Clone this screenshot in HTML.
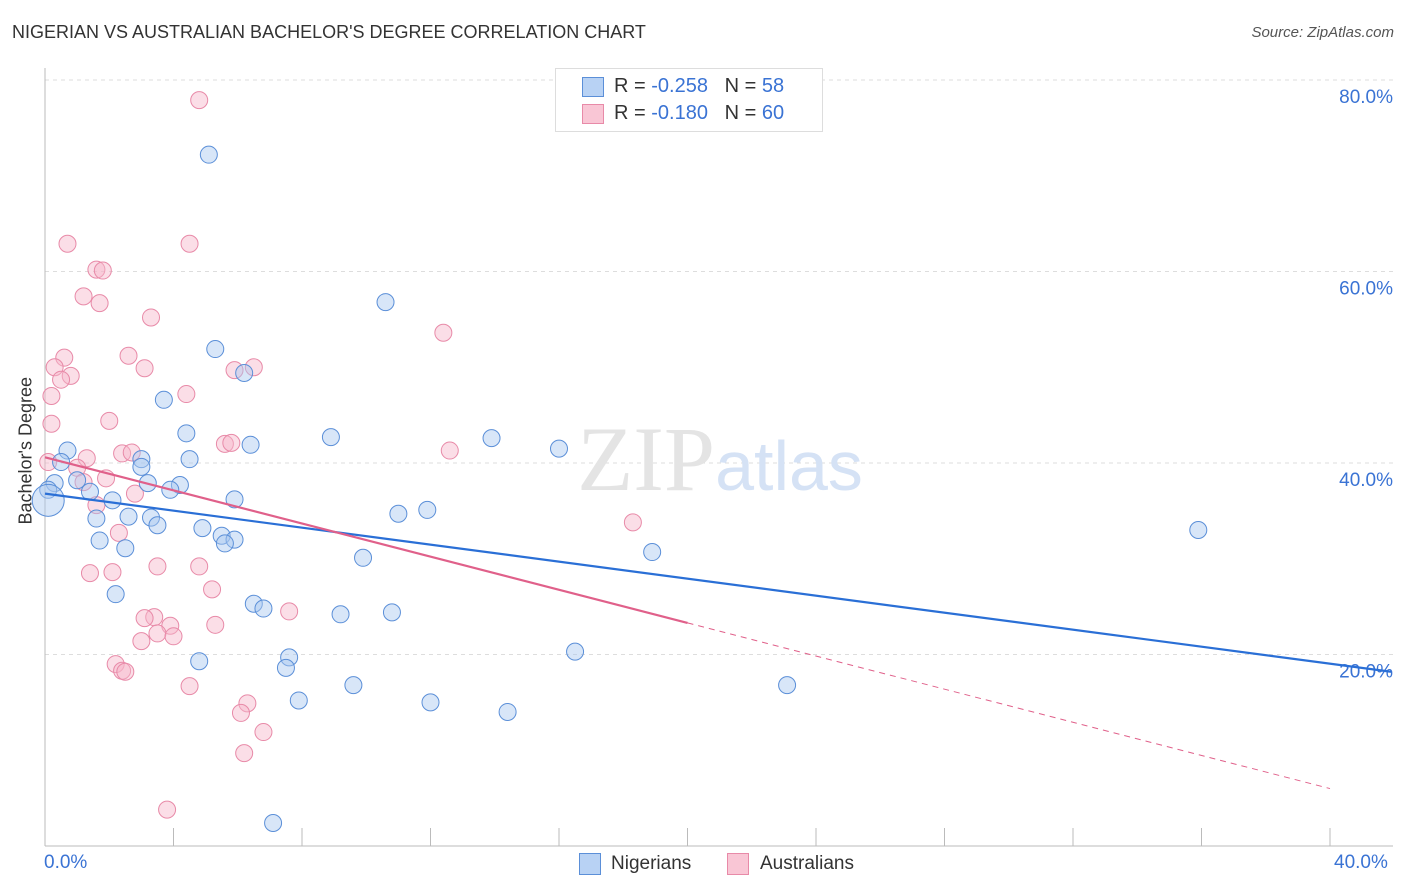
<!DOCTYPE html>
<html><head><meta charset="utf-8">
<style>
body{margin:0;background:#fff;font-family:"Liberation Sans",sans-serif;}
#wrap{position:relative;width:1406px;height:892px;overflow:hidden;}
.t{position:absolute;white-space:nowrap;}
</style></head>
<body>
<div id="wrap">
<div class="t" style="left:12px;top:22px;font-size:18px;color:#333;">NIGERIAN VS AUSTRALIAN BACHELOR'S DEGREE CORRELATION CHART</div>
<div class="t" style="right:12px;top:24px;font-size:15px;color:#555;font-style:italic;">Source: ZipAtlas.com</div>
<svg id="svg" width="1406" height="892" style="position:absolute;left:0;top:0"></svg>
</div>
<script>
const blueX=[5.1,10.6,5.3,6.2,3.7,4.4,8.9,13.9,16.0,6.4,0.7,4.5,3.0,0.5,3.0,1.0,0.3,0.1,1.4,3.2,4.2,3.9,5.9,2.1,1.6,2.6,3.3,3.5,4.9,11.0,11.9,5.5,5.9,5.6,1.7,2.5,18.9,9.9,35.9,2.2,6.5,6.8,9.2,10.8,16.5,4.8,7.6,7.5,9.6,23.1,7.9,12.0,14.4,7.1,0.1];
const blueY=[72.2,56.8,51.9,49.4,46.6,43.1,42.7,42.6,41.5,41.9,41.3,40.4,40.4,40.1,39.6,38.2,37.9,37.2,37.0,37.9,37.7,37.2,36.2,36.1,34.2,34.4,34.3,33.5,33.2,34.7,35.1,32.4,32.0,31.6,31.9,31.1,30.7,30.1,33.0,26.3,25.3,24.8,24.2,24.4,20.3,19.3,19.7,18.6,16.8,16.8,15.2,15.0,14.0,2.4,36.1];
const pinkX=[4.8,0.7,4.5,1.6,1.8,1.2,1.7,3.3,12.4,0.6,2.6,0.3,3.1,0.8,0.5,5.9,6.5,4.4,0.2,2.0,0.2,5.6,5.8,12.6,2.4,2.7,1.3,1.0,1.9,1.2,2.8,1.6,2.3,18.3,3.5,4.8,1.4,2.1,5.2,7.6,3.4,3.1,3.9,5.3,3.5,4.0,3.0,2.2,2.4,2.5,4.5,6.3,6.1,6.8,6.2,3.8,0.1];
const pinkY=[77.9,62.9,62.9,60.2,60.1,57.4,56.7,55.2,53.6,51.0,51.2,50.0,49.9,49.1,48.7,49.7,50.0,47.2,47.0,44.4,44.1,42.0,42.1,41.3,41.0,41.1,40.5,39.5,38.4,38.0,36.8,35.6,32.7,33.8,29.2,29.2,28.5,28.6,26.8,24.5,23.9,23.8,23.0,23.1,22.2,21.9,21.4,19.0,18.3,18.2,16.7,14.9,13.9,11.9,9.7,3.8,40.1];
const blueTrend=[36.8,-0.444];
const pinkTrend=[40.6,-0.865];
const yTicks=[20,40,60,80];
const xTicks=[0,4,8,12,16,20,24,28,32,36,40];
const X=v=>45+v*32.125, Y=v=>846-v*9.575;
const svg=document.getElementById('svg');const NS='http://www.w3.org/2000/svg';
function mk(tag,attrs,parent){const e=document.createElementNS(NS,tag);for(const k in attrs)e.setAttribute(k,attrs[k]);(parent||svg).appendChild(e);return e;}
yTicks.forEach(t=>{const g=mk('line',{x1:45,x2:1393,y1:Y(t),y2:Y(t),stroke:'#ddd','stroke-dasharray':'4,4'});


const l=mk('text',{x:1393,y:Y(t)+23,'text-anchor':'end','font-size':19,fill:'#3a73d4','font-family':'Liberation Sans'});l.textContent=t.toFixed(1)+'%';

});
mk('line',{x1:45,x2:45,y1:68,y2:846,stroke:'#bbb'});
mk('line',{x1:45,x2:1393,y1:846,y2:846,stroke:'#bbb'});
xTicks.forEach(t=>{const k=mk('line',{x1:X(t),x2:X(t),y1:828,y2:846,stroke:'#bbb'});

});
const wm=mk('text',{x:720,y:490,'text-anchor':'middle','font-size':92,'font-family':'Liberation Serif',fill:'#e4e4e4'});


wm.innerHTML='ZIP<tspan fill="#d5e2f5" font-family="Liberation Sans" font-size="70">atlas</tspan>';
function pts(xs,ys,fill,stroke,name,bigLast){xs.forEach((x,i)=>{const r=(bigLast&&i===xs.length-1)?16:8.5;const c=mk('circle',{cx:X(x),cy:Y(ys[i]),r:r,fill:fill,stroke:stroke,'stroke-width':1,'fill-opacity':0.45});

});}
pts(pinkX,pinkY,'#f7b6c9','#e88aa8','australian-point',false);
pts(blueX,blueY,'#a9c8f0','#5b8fd8','nigerian-point',true);
const bl=mk('line',{x1:X(0),y1:Y(blueTrend[0]),x2:X(41.9),y2:Y(blueTrend[0]+blueTrend[1]*41.9),stroke:'#2a6fd6','stroke-width':2.2});


const pl=mk('line',{x1:X(0),y1:Y(pinkTrend[0]),x2:X(20),y2:Y(pinkTrend[0]+pinkTrend[1]*20),stroke:'#e0608a','stroke-width':2.2});


const pd=mk('line',{x1:X(20),y1:Y(pinkTrend[0]+pinkTrend[1]*20),x2:X(40),y2:Y(pinkTrend[0]+pinkTrend[1]*40),stroke:'#e0608a','stroke-width':1,'stroke-dasharray':'6,5'});


</script>
<div class="t" style="left:44px;top:852px;font-size:19px;color:#3a73d4;">0.0%</div>
<div class="t" style="left:1334px;top:852px;font-size:19px;color:#3a73d4;">40.0%</div>
<div class="t" style="left:-44px;top:444px;font-size:18px;color:#333;transform:rotate(-90deg);width:140px;text-align:center;">Bachelor's Degree</div>
<div style="position:absolute;left:555px;top:68px;width:266px;height:62px;border:1px solid #ddd;background:#fff;font-size:20px;">
 <div class="t" style="left:26px;top:8px;width:20px;height:18px;background:#b8d2f4;border:1px solid #5b8fd8;"></div>
 <div class="t" style="left:58px;top:6px;color:#333;">R = <span style="color:#3a73d4">-0.258</span>&nbsp;&nbsp;&nbsp;N = <span style="color:#3a73d4">58</span></div>
 <div class="t" style="left:26px;top:35px;width:20px;height:18px;background:#f9c6d5;border:1px solid #e88aa8;"></div>
 <div class="t" style="left:58px;top:33px;color:#333;">R = <span style="color:#3a73d4">-0.180</span>&nbsp;&nbsp;&nbsp;N = <span style="color:#3a73d4">60</span></div>
</div>
<div class="t" style="left:579px;top:853px;width:20px;height:20px;background:#b8d2f4;border:1px solid #5b8fd8;"></div>
<div class="t" style="left:611px;top:853px;font-size:19px;color:#333;">Nigerians</div>
<div class="t" style="left:727px;top:853px;width:20px;height:20px;background:#f9c6d5;border:1px solid #e88aa8;"></div>
<div class="t" style="left:760px;top:853px;font-size:19px;color:#333;">Australians</div>
</body></html>
